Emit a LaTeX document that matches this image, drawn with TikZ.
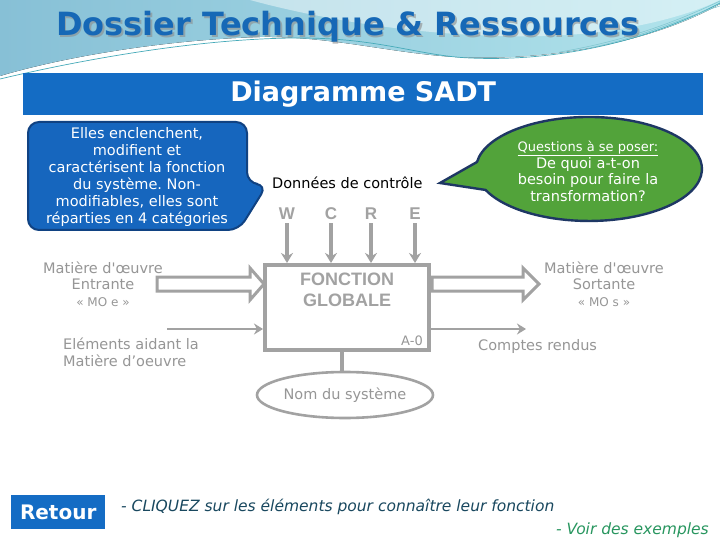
\documentclass[tikz,border=0pt]{standalone}
\usepackage{fontspec}
\setmainfont{DejaVu Sans}
\newfontfamily\arialfont{Liberation Sans}
\usetikzlibrary{arrows.meta,shapes.geometric}
\frenchspacing
\definecolor{hdrL}{RGB}{135,192,214}
\definecolor{hdrR}{RGB}{178,228,236}
\definecolor{hdrline}{RGB}{70,170,185}
\definecolor{titleblue}{RGB}{22,104,182}
\definecolor{bannerblue}{RGB}{20,108,196}
\definecolor{callblue}{RGB}{22,102,190}
\definecolor{callborder}{RGB}{16,66,130}
\definecolor{callgreen}{RGB}{82,163,58}
\definecolor{greenborder}{RGB}{30,55,100}
\definecolor{dgrey}{RGB}{162,162,162}
\definecolor{tgrey}{RGB}{150,150,150}
\definecolor{cliq}{RGB}{25,72,95}
\definecolor{voir}{RGB}{40,150,95}
\tikzset{
  lbl/.style={text=tgrey, font=\fontsize{14.5}{16.5}\selectfont, align=center, inner sep=0},
  garrow/.style={draw=dgrey, line width=3.2, -{Stealth[width=12pt,length=10pt]}},
  tarrow/.style={draw=dgrey, line width=2.6, -{Stealth[width=11pt,length=9pt]}},
  hollow/.style={draw=dgrey, line width=3, fill=white, line join=miter},
  letter/.style={text=dgrey, font=\arialfont\bfseries\fontsize{17}{17}\selectfont, inner sep=0}
}
\begin{document}
\begin{tikzpicture}[x=1pt,y=-1pt]
\useasboundingbox (0,0) rectangle (720,540);
\fill[white] (0,0) rectangle (720,540);
% header background
\fill[left color=hdrL, right color=hdrR] (0,0) -- (720,0) -- (720,4)
  .. controls (660,38) and (560,62) .. (455,57)
  .. controls (390,53) and (330,36) .. (260,37)
  .. controls (160,40) and (60,58) .. (0,76) -- cycle;
\fill[white, opacity=0.45] (250,0) .. controls (360,30) and (500,44) .. (600,32)
  .. controls (660,24) and (700,10) .. (720,0) -- cycle;
\draw[hdrline, line width=0.7] (0,79) .. controls (80,60) and (200,38) .. (300,38)
  .. controls (380,38) and (420,56) .. (470,58) .. controls (560,62) and (650,40) .. (720,3);
\draw[hdrline!70, line width=0.5] (560,52) .. controls (630,40) and (680,20) .. (720,1);
\draw[hdrline!70, line width=0.5] (590,48) .. controls (650,35) and (690,15) .. (720,6);
% title
\node[text=black!45, opacity=0.6, font=\bfseries\fontsize{32}{32}\selectfont, inner sep=0] at (349.5,28.5) {Dossier Technique \& Ressources};
\node (title) [text=titleblue, font=\bfseries\fontsize{32}{32}\selectfont, inner sep=0] at (348,27) {Dossier Technique \& Ressources};
% banner
\node (banner) [fill=bannerblue, minimum width=680, minimum height=42, inner sep=0, anchor=north west] at (23,73) {};
\node[text=white, font=\bfseries\fontsize{27}{27}\selectfont] at (banner.center) {Diagramme SADT};
% left callout
\filldraw[fill=callblue, draw=callborder, line width=2, rounded corners=11]
  (28,122) -- (247,122) -- (247,183) -- (267,185) -- (239,230) -- (28,230) -- cycle;
\node (ctrlnote) [text=white, align=center, font=\fontsize{14.5}{17}\selectfont, inner sep=0] at (137,176.5)
  {Elles enclenchent,\\modifient et\\caractérisent la fonction\\du système. Non-\\modifiables, elles sont\\réparties en 4 catégories};
% green callout
\filldraw[fill=callgreen, draw=greenborder, line width=2.4]
  (440,183) -- (477,162) arc[start angle=187.7, end angle=516.2, x radius=113, y radius=52] -- cycle;
\node (question) [text=white, align=center, inner sep=0, font=\fontsize{14.5}{16.7}\selectfont] at (588,171.5)
  {{\fontsize{13}{16.7}\selectfont\underline{Questions à se poser:}}\\De quoi a-t-on\\besoin pour faire la\\transformation?};
% control label
\node (ctrl) [font=\fontsize{14.5}{17}\selectfont, inner sep=0, anchor=west] at (272,183) {Données de contrôle};
% main box
\node (fg) [draw=dgrey, line width=4, minimum width=164, minimum height=85, inner sep=0] at (347,307.5) {};
\node[text=dgrey, align=center, font=\arialfont\bfseries\fontsize{18}{21}\selectfont, inner sep=0] at (347,290) {FONCTION\\GLOBALE};
\node (a0) [text=tgrey, font=\fontsize{13}{13}\selectfont, inner sep=0] at (412,341) {A-0};
% WCRE
\node (w) [letter] at (287,214) {W};
\node (c) [letter] at (331,214) {C};
\node (r) [letter] at (371,214) {R};
\node (e) [letter] at (415,214) {E};
\foreach \n in {w,c,r,e} {
  \draw[garrow] ([yshift=-3]\n.south) -- (\n.south |- fg.north);
}
% input / output hollow arrows
\draw[hollow] (157,277) -- (250,277) -- (250,268) -- (264,284) -- (250,300) -- (250,291) -- (157,291) -- cycle;
\draw[hollow] (432,277) -- (523,277) -- (523,268) -- (539,284) -- (523,300) -- (523,291) -- (432,291) -- cycle;
% labels
\node (moe) [lbl] at (103,284) {Matière d\textquotesingle œuvre\\Entrante\\{\fontsize{12}{16.5}\selectfont « MO e »}};
\node (mos) [lbl] at (604,284) {Matière d\textquotesingle œuvre\\Sortante\\{\fontsize{12}{16.5}\selectfont « MO s »}};
% support / reports
\coordinate (supin) at (167,329);
\coordinate (cr) at (526,329);
\draw[tarrow] (supin) -- (supin -| fg.west);
\draw[tarrow] (supin -| fg.east) -- (cr);
\node (sup) [lbl, align=left, anchor=north west] at (63,338) {Eléments aidant la\\Matière d’oeuvre};
\node (crl) [lbl, anchor=west] at (478,346) {Comptes rendus};
% system
\node (sys) [ellipse, draw=dgrey, line width=2.6, minimum width=176, minimum height=46, inner sep=0, text=tgrey, font=\fontsize{14.5}{16}\selectfont] at (345,395) {Nom du système};
\draw[draw=dgrey, line width=3.2] (fg.south -| 342,0) -- (sys.north -| 342,0);
% bottom
\node (retour) [fill=bannerblue, text=white, font=\bfseries\fontsize{20}{20}\selectfont, minimum width=94, minimum height=34, inner sep=0, anchor=north west] at (11,495) {Retour};
\node (cliq) [text=cliq, font=\itshape\fontsize{15.5}{16}\selectfont, inner sep=0, anchor=west] at (121,507) {- CLIQUEZ sur les éléments pour connaître leur fonction};
\node (voir) [text=voir, font=\itshape\fontsize{15.5}{16}\selectfont, inner sep=0, anchor=east] at (709,530) {- Voir des exemples};
\end{tikzpicture}
\end{document}
